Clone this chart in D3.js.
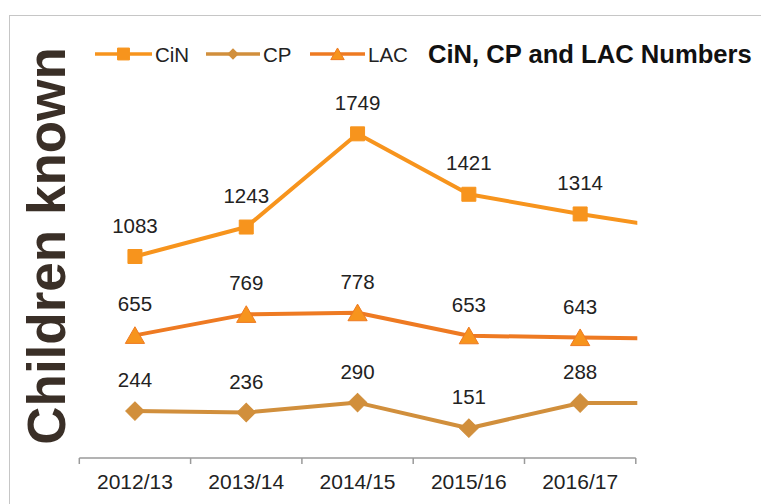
<!DOCTYPE html>
<html>
<head>
<meta charset="utf-8">
<script src="https://cdn.jsdelivr.net/npm/d3@7"></script>
<style>
  html, body { margin: 0; padding: 0; background: #fff; }
  svg { display: block; font-family: "Liberation Sans", Arial, sans-serif; }
</style>
</head>
<body>
<svg id="chart" width="761" height="504"></svg>
<script>
// ---- data ----
const categories = ["2012/13", "2013/14", "2014/15", "2015/16", "2016/17", "2017/18"];
const tickLabels = ["2012/13", "2013/14", "2014/15", "2015/16", "2016/17"];
const cinValues = [1083, 1243, 1749, 1421, 1314, 1220];
const cpValues  = [244, 236, 290, 151, 288, 288];
const lacValues = [655, 769, 778, 653, 643, 636];
const seriesNames = ["CiN", "CP", "LAC"];
const titleText = "CiN, CP and LAC Numbers";
const yTitle = "Children known";

const colors = { CiN: "#F7941D", CP: "#D18F3C", LAC: "#EE7A22" };
const markerFill = { CiN: "#F7941D", CP: "#D18F3C", LAC: "#F7941D" };
const markerStroke = { CiN: "#F7941D", CP: "#D18F3C", LAC: "#EE7A22" };

const series = [
  { name: "CiN", values: cinValues, shape: "square" },
  { name: "CP", values: cpValues, shape: "diamond" },
  { name: "LAC", values: lacValues, shape: "triangle" }
];

const svg = d3.select("#chart");

// frame
svg.append("rect")
  .attr("x", 9.5).attr("y", 15.5).attr("width", 800).attr("height", 600)
  .attr("fill", "none").attr("stroke", "#c6c6c6").attr("stroke-width", 1);

// scales
const step = 111.3;
const x0 = 79.3;
const x = d3.scaleBand().domain(categories).range([x0, x0 + step * categories.length]).padding(0);
const y = d3.scaleLinear().domain([0, 2000]).range([456, 87.6]);
const cx = c => x(c) + x.bandwidth() / 2;
const plotRight = x(tickLabels[tickLabels.length - 1]) + x.bandwidth();

// clip
svg.append("defs").append("clipPath").attr("id", "plotclip")
  .append("rect").attr("x", x0 - 20).attr("y", 0).attr("width", plotRight + 1.5 - (x0 - 20)).attr("height", 504);

// y title
svg.append("text")
  .attr("transform", "translate(65,246) rotate(-90)")
  .attr("text-anchor", "middle")
  .attr("font-size", 53).attr("font-weight", "bold")
  .attr("fill", "#3A2F27")
  .text(yTitle);

// x axis
const axisY = 458;
const axisG = svg.append("g");
axisG.append("line")
  .attr("x1", x0).attr("x2", plotRight).attr("y1", axisY).attr("y2", axisY)
  .attr("stroke", "#9a9a9a").attr("stroke-width", 1.5);
const tickPos = tickLabels.map(c => x(c)).concat([plotRight]);
axisG.selectAll("line.tick").data(tickPos).enter().append("line")
  .attr("class", "tick")
  .attr("x1", d => d).attr("x2", d => d).attr("y1", axisY).attr("y2", axisY + 6)
  .attr("stroke", "#9a9a9a").attr("stroke-width", 1.5);
axisG.selectAll("text").data(tickLabels).enter().append("text")
  .attr("x", d => cx(d)).attr("y", 489)
  .attr("text-anchor", "middle").attr("font-size", 21).attr("fill", "#222")
  .text(d => d);

// symbols
function symbolPath(shape, scale) {
  if (shape === "square") return d3.symbol(d3.symbolSquare, 196 * scale * scale)();
  if (shape === "diamond") return d3.symbol(d3.symbolSquare, 170 * scale * scale)();
  return d3.symbol(d3.symbolTriangle, 160 * scale * scale)();
}
function symbolTransform(shape, px, py, scale) {
  if (shape === "diamond") return `translate(${px},${py}) rotate(45)`;
  if (shape === "triangle") return `translate(${px},${py + 2.5 * scale})`;
  return `translate(${px},${py})`;
}

const line = d3.line().x((d, i) => cx(categories[i])).y(d => y(d));
const plot = svg.append("g").attr("clip-path", "url(#plotclip)");

series.forEach(s => {
  plot.append("path")
    .datum(s.values)
    .attr("d", line)
    .attr("fill", "none")
    .attr("stroke", colors[s.name])
    .attr("stroke-width", 4)
    .attr("stroke-linejoin", "round");
});

series.forEach(s => {
  const pts = s.values.slice(0, tickLabels.length);
  svg.append("g").selectAll("path").data(pts).enter().append("path")
    .attr("d", symbolPath(s.shape, 1))
    .attr("transform", (d, i) => symbolTransform(s.shape, cx(categories[i]), y(d), 1))
    .attr("fill", markerFill[s.name])
    .attr("stroke", markerStroke[s.name]).attr("stroke-width", 1);
  svg.append("g").selectAll("text").data(pts).enter().append("text")
    .attr("x", (d, i) => cx(categories[i]))
    .attr("y", d => y(d) - 24)
    .attr("text-anchor", "middle").attr("font-size", 20.5).attr("fill", "#222")
    .text(d => d);
});

// legend
const legendItems = [
  { name: "CiN", shape: "square", x1: 95, x2: 152, tx: 155 },
  { name: "CP", shape: "diamond", x1: 206, x2: 260, tx: 263 },
  { name: "LAC", shape: "triangle", x1: 310, x2: 365, tx: 368 }
];
const legY = 54;
legendItems.forEach(it => {
  const g = svg.append("g");
  g.append("line").attr("x1", it.x1).attr("x2", it.x2).attr("y1", legY).attr("y2", legY)
    .attr("stroke", colors[it.name]).attr("stroke-width", 3.5);
  const sc = it.shape === "square" ? 0.85 : (it.shape === "diamond" ? 0.55 : 0.7);
  g.append("path")
    .attr("d", symbolPath(it.shape, sc))
    .attr("transform", symbolTransform(it.shape, (it.x1 + it.x2) / 2, legY, sc))
    .attr("fill", markerFill[it.name]).attr("stroke", markerStroke[it.name]).attr("stroke-width", 1);
  g.append("text").attr("x", it.tx).attr("y", 61.5)
    .attr("font-size", 20.5).attr("fill", "#222").text(it.name);
});

// title
svg.append("text")
  .attr("x", 428).attr("y", 63)
  .attr("font-size", 25.6).attr("font-weight", "bold").attr("fill", "#111")
  .text(titleText);
</script>
</body>
</html>
